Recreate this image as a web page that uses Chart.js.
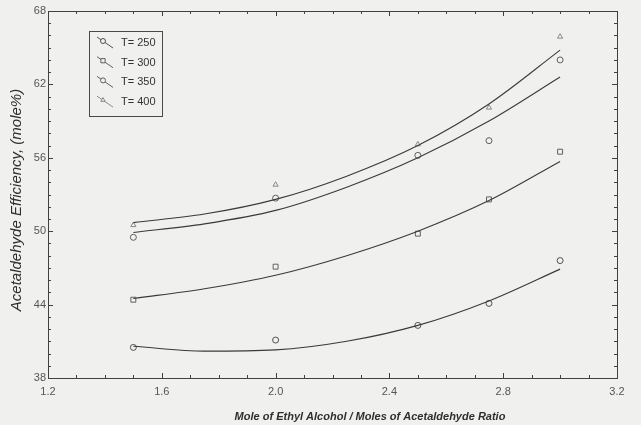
<!doctype html>
<html>
<head>
<meta charset="utf-8">
<style>
html, body { margin: 0; padding: 0; background: #f0f0ee; }
#chart { display: block; }
</style>
</head>
<body>
<canvas id="chart" width="641" height="425"></canvas>
<script src="https://cdn.jsdelivr.net/npm/chart.js"></script>
<script>
// measured points
var xPoints = [1.5, 2.0, 2.5, 2.75, 3.0];
var t250 = [40.5, 41.1, 42.3, 44.1, 47.6];
var t300 = [44.4, 47.1, 49.8, 52.6, 56.5];
var t350 = [49.5, 52.7, 56.2, 57.4, 64.0];
var t400 = [50.5, 53.8, 57.1, 60.1, 65.9];

// fitted curves
var xCurve = [1.5, 1.75, 2.0, 2.25, 2.5, 2.75, 3.0];
var fit250 = [40.6, 40.2, 40.3, 41.0, 42.3, 44.3, 46.9];
var fit300 = [44.5, 45.3, 46.4, 48.0, 50.0, 52.5, 55.7];
var fit350 = [49.9, 50.6, 51.7, 53.6, 56.0, 59.0, 62.6];
var fit400 = [50.7, 51.4, 52.6, 54.5, 57.0, 60.4, 64.8];

var seriesLabels = ['T= 250', 'T= 300', 'T= 350', 'T= 400'];
var xTickLabels = ['1.2', '1.6', '2.0', '2.4', '2.8', '3.2'];
var yTickLabels = ['38', '44', '50', '56', '62', '68'];
var xTitle = 'Mole of Ethyl Alcohol / Moles of Acetaldehyde Ratio';
var yTitle = 'Acetaldehyde Efficiency, (mole%)';

var markerStyles = ['circle', 'rect', 'circle', 'triangle'];
var markerColors = ['#505050', '#606060', '#606060', '#8a8a8a'];
var markerSizes = [3, 3.5, 3, 3];

function pts(xs, ys) {
	return xs.map(function (x, i) { return { x: x, y: ys[i] }; });
}

var curves = [fit250, fit300, fit350, fit400];
var points = [t250, t300, t350, t400];
var datasets = [];
curves.forEach(function (c, i) {
	datasets.push({
		label: seriesLabels[i] + ' fit',
		data: pts(xCurve, c),
		showLine: true,
		borderColor: '#3a3a3a',
		borderWidth: 1.1,
		pointRadius: 0,
		cubicInterpolationMode: 'monotone',
		fill: false
	});
});
points.forEach(function (p, i) {
	datasets.push({
		label: seriesLabels[i],
		data: pts(xPoints, p),
		showLine: false,
		pointStyle: markerStyles[i],
		pointRadius: markerSizes[i],
		pointBorderColor: markerColors[i],
		pointBackgroundColor: 'rgba(0,0,0,0)',
		pointBorderWidth: 1
	});
});

function near(v, list) {
	return list.some(function (s) { return Math.abs(parseFloat(s) - v) < 1e-6; });
}

var frame = {
	id: 'frame',
	beforeDraw: function (chart) {
		var c = chart.ctx;
		c.save();
		c.fillStyle = '#f0f0ee';
		c.fillRect(0, 0, chart.width, chart.height);
		c.restore();
	},
	afterDraw: function (chart) {
		var c = chart.ctx, a = chart.chartArea;
		var xs = chart.scales.x, ys = chart.scales.y;
		c.save();
		c.strokeStyle = '#404040';
		c.lineWidth = 1;
		c.strokeRect(Math.round(a.left) + 0.5, Math.round(a.top) + 0.5, Math.round(a.right - a.left), Math.round(a.bottom - a.top));
		// inward ticks on all sides
		c.beginPath();
		xs.ticks.forEach(function (t) {
			var px = Math.round(xs.getPixelForValue(t.value)) + 0.5;
			var len = near(t.value, xTickLabels) ? 5 : 3;
			c.moveTo(px, a.bottom); c.lineTo(px, a.bottom - len);
			c.moveTo(px, a.top); c.lineTo(px, a.top + len);
		});
		ys.ticks.forEach(function (t) {
			var py = Math.round(ys.getPixelForValue(t.value)) + 0.5;
			var len = near(t.value, yTickLabels) ? 5 : 3;
			c.moveTo(a.left, py); c.lineTo(a.left + len, py);
			c.moveTo(a.right, py); c.lineTo(a.right - len, py);
		});
		c.stroke();

		// axis titles
		c.fillStyle = '#2e2e2e';
		c.textAlign = 'center';
		c.textBaseline = 'middle';
		c.font = 'italic bold 11px "Liberation Sans", Arial, sans-serif';
		c.fillText(xTitle, 370, 417);
		c.save();
		c.translate(17, 200);
		c.rotate(-Math.PI / 2);
		c.font = 'italic 15px "Liberation Sans", Arial, sans-serif';
		c.fillText(yTitle, 0, 0);
		c.restore();

		// legend box
		c.strokeStyle = '#4a4a4a';
		c.strokeRect(89.5, 31.5, 73, 85);
		c.textAlign = 'left';
		c.font = '11px "Liberation Sans", Arial, sans-serif';
		for (var i = 0; i < seriesLabels.length; i++) {
			var y = 43 + i * 19.7;
			c.strokeStyle = markerColors[i];
			c.beginPath();
			c.moveTo(97, y - 6);
			c.lineTo(113, y + 5);
			c.stroke();
			c.fillStyle = '#f0f0ee';
			Chart.helpers.drawPoint(c, {
				pointStyle: markerStyles[i],
				radius: markerSizes[i] - 0.5,
				borderWidth: 1,
				rotation: 0
			}, 103, y - 2);
			c.fillStyle = '#333';
			c.fillText(seriesLabels[i], 121, y);
		}
		c.restore();
	}
};

new Chart(document.getElementById('chart'), {
	type: 'scatter',
	data: { datasets: datasets },
	plugins: [frame],
	options: {
		responsive: false,
		animation: false,
		devicePixelRatio: 1,
		layout: { padding: { top: 11, right: 24, left: 0, bottom: 0 } },
		plugins: { legend: { display: false }, tooltip: { enabled: false } },
		scales: {
			x: {
				type: 'linear',
				min: 1.2,
				max: 3.2,
				grid: { display: false, drawTicks: false },
				border: { display: false },
				ticks: {
					stepSize: 0.1,
					maxTicksLimit: 100,
					autoSkip: false,
					maxRotation: 0,
					padding: 7,
					color: '#555',
					font: { family: '"Liberation Sans", Arial, sans-serif', size: 11 },
					callback: function (v) {
						var s = v.toFixed(1);
						return near(v, xTickLabels) ? s : '';
					}
				},
				afterFit: function (s) { s.height = 47; }
			},
			y: {
				type: 'linear',
				min: 38,
				max: 68,
				grid: { display: false, drawTicks: false },
				border: { display: false },
				ticks: {
					stepSize: 1,
					maxTicksLimit: 100,
					autoSkip: false,
					padding: 2,
					color: '#555',
					font: { family: '"Liberation Sans", Arial, sans-serif', size: 11 },
					callback: function (v) {
						return near(v, yTickLabels) ? String(v) : '';
					}
				},
				afterFit: function (s) { s.width = 48; }
			}
		}
	}
});
</script>
</body>
</html>
